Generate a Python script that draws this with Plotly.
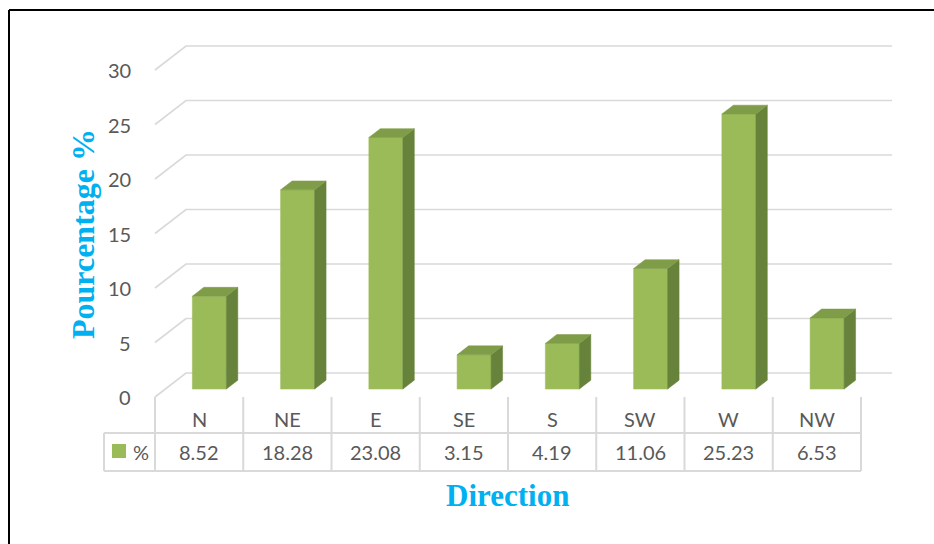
import plotly.graph_objects as go

# ---- data ----
categories = ["N", "NE", "E", "SE", "S", "SW", "W", "NW"]
values = [8.52, 18.28, 23.08, 3.15, 4.19, 11.06, 25.23, 6.53]
value_labels = ["8.52", "18.28", "23.08", "3.15", "4.19", "11.06", "25.23", "6.53"]
y_ticks = [0, 5, 10, 15, 20, 25, 30]
series_name = "%"

# ---- layout geometry (pixels) ----
W, H = 934, 544
PX0, COLW = 155.0, 88.25      # pixel x of column 0, pixel width per category
PY0, PPU = 397.0, 10.9        # pixel y of value 0 on the front plane, pixels per unit
DX = 31.0 / COLW              # depth offset in x-units
DY = 24.0 / PPU               # depth offset in y-units
F0, F1 = 0.33, 0.70           # bar front/back depth fractions
BW = 34.0 / COLW              # bar width in x-units

def px2x(px):
    return (px - PX0) / COLW

def py2paper(py):
    return 1 - py / H

FRONT = "#9BBB59"
SIDE = "#67823A"
TOP = "#7F9C48"
GRID = "#D9D9D9"
TXT = "#595959"
BLUE = "#00B0F0"
FONT = "Lato"

fig = go.Figure()

n = len(categories)
# gridlines (floor diagonal + back wall)
for t in y_ticks:
    fig.add_trace(go.Scatter(
        x=[0, DX, n + DX], y=[t, t + DY, t + DY], mode="lines",
        line=dict(color=GRID, width=1.6), hoverinfo="skip", showlegend=False))

# bars
for i, v in enumerate(values):
    c = i + 0.5
    l0, r0 = c - BW / 2 + F0 * DX, c + BW / 2 + F0 * DX
    l1, r1 = c - BW / 2 + F1 * DX, c + BW / 2 + F1 * DX
    b0, b1 = F0 * DY, F1 * DY
    fig.add_trace(go.Scatter(x=[l0, r0, r0, l0, l0], y=[b0, b0, v + b0, v + b0, b0],
                             fill="toself", fillcolor=FRONT, mode="lines",
                             line=dict(color=FRONT, width=0.5), hoverinfo="skip", showlegend=False))
    fig.add_trace(go.Scatter(x=[r0, r1, r1, r0, r0], y=[b0, b1, v + b1, v + b0, b0],
                             fill="toself", fillcolor=SIDE, mode="lines",
                             line=dict(color=SIDE, width=0.5), hoverinfo="skip", showlegend=False))
    fig.add_trace(go.Scatter(x=[l0, r0, r1, l1, l0], y=[v + b0, v + b0, v + b1, v + b1, v + b0],
                             fill="toself", fillcolor=TOP, mode="lines",
                             line=dict(color=TOP, width=0.5), hoverinfo="skip", showlegend=False))

annotations = []
# y tick labels
for t in y_ticks:
    annotations.append(dict(x=px2x(133), y=t, xref="x", yref="y", text=str(t), showarrow=False,
                            xanchor="right", yanchor="middle", font=dict(family=FONT, size=20, color=TXT)))

shapes = []
# data table
ROW_TOP, ROW_MID, ROW_BOT = 397, 433, 471
for i in range(n + 1):
    shapes.append(dict(type="line", xref="x", yref="paper", x0=i, x1=i,
                       y0=py2paper(ROW_TOP), y1=py2paper(ROW_BOT), line=dict(color=GRID, width=2)))
for py in (ROW_MID, ROW_BOT):
    shapes.append(dict(type="line", xref="x", yref="paper", x0=px2x(104), x1=n,
                       y0=py2paper(py), y1=py2paper(py), line=dict(color=GRID, width=2)))
shapes.append(dict(type="line", xref="x", yref="paper", x0=px2x(104), x1=px2x(104),
                   y0=py2paper(ROW_MID), y1=py2paper(ROW_BOT), line=dict(color=GRID, width=2)))
# legend key
shapes.append(dict(type="rect", xref="x", yref="paper", x0=px2x(112), x1=px2x(126),
                   y0=py2paper(458), y1=py2paper(444), fillcolor=FRONT, line=dict(width=0)))
annotations.append(dict(x=px2x(131), y=py2paper(452), xref="x", yref="paper", text=series_name,
                        showarrow=False, xanchor="left", yanchor="middle",
                        font=dict(family=FONT, size=20, color=TXT)))
for i, (cat, lab) in enumerate(zip(categories, value_labels)):
    annotations.append(dict(x=i + 0.5, y=py2paper(419), xref="x", yref="paper", text=cat,
                            showarrow=False, xanchor="center", yanchor="middle",
                            font=dict(family=FONT, size=20, color=TXT)))
    annotations.append(dict(x=i + 0.5, y=py2paper(452), xref="x", yref="paper", text=lab,
                            showarrow=False, xanchor="center", yanchor="middle",
                            font=dict(family=FONT, size=20, color=TXT)))

# titles
annotations.append(dict(x=83 / W, y=py2paper(234), xref="paper", yref="paper",
                        text="<b>Pourcentage %</b>", textangle=-90, showarrow=False,
                        xanchor="center", yanchor="middle",
                        font=dict(family="Liberation Serif", size=32, color=BLUE)))
annotations.append(dict(x=507 / W, y=py2paper(495), xref="paper", yref="paper",
                        text="<b>Direction</b>", showarrow=False,
                        xanchor="center", yanchor="middle",
                        font=dict(family="Liberation Serif", size=31, color=BLUE)))

# outer border (left and top visible)
shapes.append(dict(type="line", xref="paper", yref="paper", x0=9 / W, x1=9 / W,
                   y0=0, y1=py2paper(10), line=dict(color="black", width=2)))
shapes.append(dict(type="line", xref="paper", yref="paper", x0=9 / W, x1=1,
                   y0=py2paper(10), y1=py2paper(10), line=dict(color="black", width=2)))

fig.update_layout(
    width=W, height=H, margin=dict(l=0, r=0, t=0, b=0),
    paper_bgcolor="white", plot_bgcolor="white",
    xaxis=dict(range=[px2x(0), px2x(W)], visible=False, fixedrange=True),
    yaxis=dict(range=[(PY0 - H) / PPU, PY0 / PPU], visible=False, fixedrange=True),
    shapes=shapes, annotations=annotations, showlegend=False,
)

fig.write_html("out.html")
